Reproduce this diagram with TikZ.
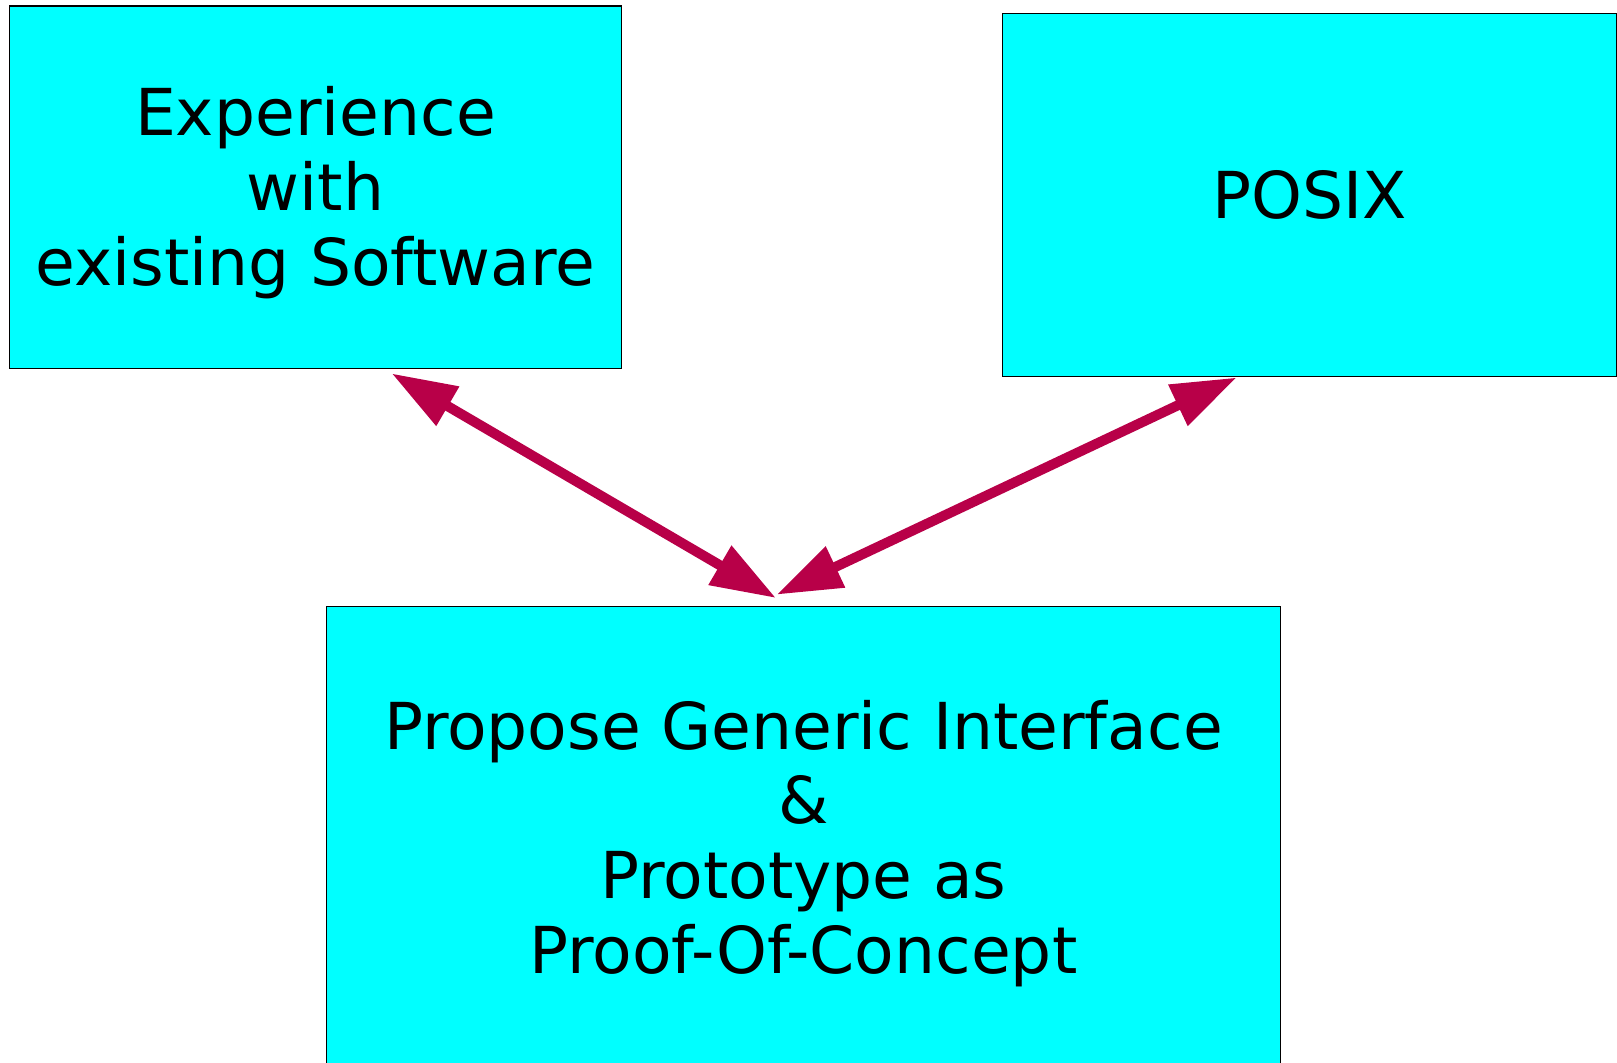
\documentclass[tikz,border=0pt]{standalone}
\usepackage{fontspec}
\setmainfont{DejaVu Sans}
\usepackage{tikz}
\usetikzlibrary{arrows.meta, positioning, calc}
\definecolor{boxcyan}{RGB}{0,255,255}
\definecolor{linkred}{RGB}{184,0,72}
\newcommand\asc{\rule{0pt}{0.93em}} % volle Oberlaenge der ersten Zeile

\begin{document}
\begin{tikzpicture}[x=0.01cm, y=-0.01cm,
        box/.style={draw=black, fill=boxcyan, line width=0.3pt, inner sep=0pt,
            align=center, font=\fontsize{18.4pt}{21.3pt}\selectfont},
        link/.style={draw=linkred, line width=0.1cm,
            {Triangle[length=0.65cm, width=0.43cm]}-{Triangle[length=0.65cm, width=0.43cm]}}]
        \useasboundingbox (0,0) rectangle (1617,1063);
        % die drei Kaesten
        \node[box, minimum width=6.125cm, minimum height=3.62cm] (exp) at (315.5,187.1)
            {\asc Experience\\with\\existing Software};
        \node[box, minimum width=6.13cm, minimum height=3.63cm] (posix) at (1309.5,194.7)
            {POSIX};
        \node[box, minimum width=9.53cm, minimum height=4.62cm] (prop) at (803.5,838)
            {\asc Propose Generic Interface\\\&\\Prototype as\\Proof-Of-Concept};
        % Doppelpfeile
        \draw[link] ([shift={(76.2,4.7)}]exp.south) -- ([shift={(-27.5,-8.3)}]prop.north);
        \draw[link] ([shift={(-72.8,0.7)}]posix.south) -- ([shift={(-26.8,-11.7)}]prop.north);
    \end{tikzpicture}
\end{document}
